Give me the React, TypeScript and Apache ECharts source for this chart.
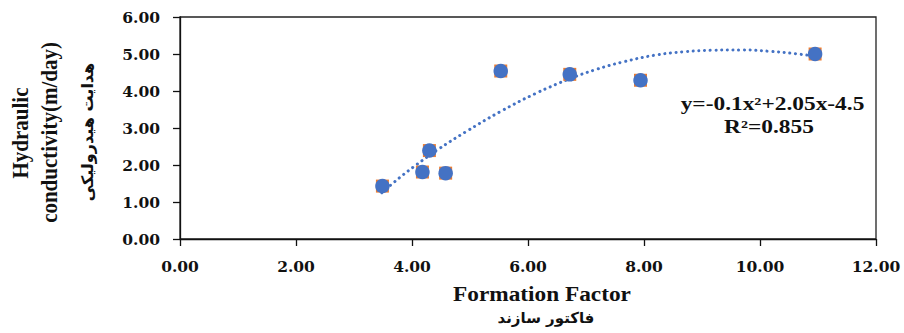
import React, { useEffect, useRef } from "react";
import * as echarts from "echarts";

// Measured points (Formation Factor vs Hydraulic conductivity)
const formationFactor = [3.49, 4.18, 4.3, 4.58, 5.53, 6.72, 7.94, 10.95];
const conductivity = [1.43, 1.81, 2.39, 1.78, 4.54, 4.45, 4.29, 5.0];

// Trendline
const trendX = [3.48, 3.78, 4.08, 4.44, 4.93, 5.53, 6.14, 6.72, 7.17, 7.65, 8.19, 8.68, 9.16, 9.71, 10.19, 10.55, 10.95];
const trendY = [1.25, 1.65, 2.01, 2.41, 2.9, 3.45, 3.94, 4.33, 4.58, 4.79, 4.97, 5.06, 5.1, 5.11, 5.07, 5.02, 4.94];

const xTitle = "Formation Factor";
const xTitleFa = "فاکتور سازند";
const yTitle1 = "Hydraulic";
const yTitle2 = "conductivity(m/day)";
const yTitleFa = "هدایت هیدرولیکی";
const equation = "y=-0.1x²+2.05x-4.5";
const rSquared = "R²=0.855";

export default function App() {
  const ref = useRef<HTMLDivElement>(null);
  useEffect(() => {
    document.body.style.margin = "0";
    if (!ref.current) return;
    const chart = echarts.init(ref.current, null, { renderer: "svg" });
    const scatterData = formationFactor.map((x, i) => [x, conductivity[i]]);
    const trendData = trendX.map((x, i) => [x, trendY[i]]);
    const labelStyle = {
      fontFamily: "DejaVu Serif",
      fontWeight: "bold" as const,
      fontSize: 15.5,
      color: "#111",
    };
    const serifBold = "bold 21px 'Liberation Serif'";
    chart.setOption({
      animation: false,
      backgroundColor: "#fff",
      grid: {
        left: 180,
        right: 28,
        top: 17,
        bottom: 94,
        show: true,
        borderColor: "#222",
        borderWidth: 1.3,
        containLabel: false,
      },
      xAxis: {
        type: "value",
        min: 0,
        max: 12,
        interval: 2,
        axisLine: { show: true, onZero: false, lineStyle: { color: "#111", width: 1.3 } },
        axisTick: { show: true, length: 7, lineStyle: { color: "#111", width: 1.3 } },
        splitLine: { show: false },
        axisLabel: { ...labelStyle, margin: 19, formatter: (v: number) => v.toFixed(2) },
      },
      yAxis: {
        type: "value",
        min: 0,
        max: 6,
        interval: 1,
        axisLine: { show: true, onZero: false, lineStyle: { color: "#111", width: 1.3 } },
        axisTick: { show: true, length: 7, lineStyle: { color: "#111", width: 1.3 } },
        splitLine: { show: false },
        axisLabel: { ...labelStyle, margin: 20, formatter: (v: number) => v.toFixed(2) },
      },
      series: [
        {
          type: "line",
          data: trendData,
          smooth: 0.4,
          showSymbol: false,
          symbol: "none",
          lineStyle: { color: "#4472C4", width: 3, type: [0.1, 5.6], cap: "round" },
          z: 1,
        },
        {
          type: "scatter",
          data: scatterData,
          symbol: "rect",
          symbolSize: 13,
          itemStyle: { color: "#ED7D31", opacity: 1 },
          z: 2,
        },
        {
          type: "scatter",
          data: scatterData,
          symbol: "circle",
          symbolSize: 14.5,
          itemStyle: { color: "#4472C4", opacity: 1 },
          z: 3,
        },
      ],
      graphic: [
        {
          type: "text",
          x: 20.5,
          y: 133,
          rotation: Math.PI / 2,
          scaleY: 1.1,
          style: { text: yTitle1, font: serifBold, fill: "#111", align: "center", verticalAlign: "middle" },
        },
        {
          type: "text",
          x: 49.5,
          y: 132.5,
          rotation: Math.PI / 2,
          scaleY: 1.1,
          style: { text: yTitle2, font: serifBold, fill: "#111", align: "center", verticalAlign: "middle" },
        },
        {
          type: "text",
          x: 87,
          y: 132,
          rotation: Math.PI / 2,
          style: { text: yTitleFa, font: "bold 16px 'DejaVu Sans'", fill: "#111", align: "center", verticalAlign: "middle" },
        },
        {
          type: "text",
          x: 542,
          y: 294,
          scaleX: 1.11,
          style: { text: xTitle, font: serifBold, fill: "#111", align: "center", verticalAlign: "middle" },
        },
        {
          type: "text",
          x: 546,
          y: 318,
          style: { text: xTitleFa, font: "bold 15px 'DejaVu Sans'", fill: "#111", align: "center", verticalAlign: "middle" },
        },
        {
          type: "text",
          x: 772.5,
          y: 104,
          scaleX: 1.3,
          style: { text: equation, font: "bold 18px 'Liberation Serif'", fill: "#111", align: "center", verticalAlign: "middle" },
        },
        {
          type: "text",
          x: 769,
          y: 127,
          scaleX: 1.3,
          style: { text: rSquared, font: "bold 18px 'Liberation Serif'", fill: "#111", align: "center", verticalAlign: "middle" },
        },
      ],
    });
    return () => chart.dispose();
  }, []);
  return <div ref={ref} style={{ width: 904, height: 333 }} />;
}
